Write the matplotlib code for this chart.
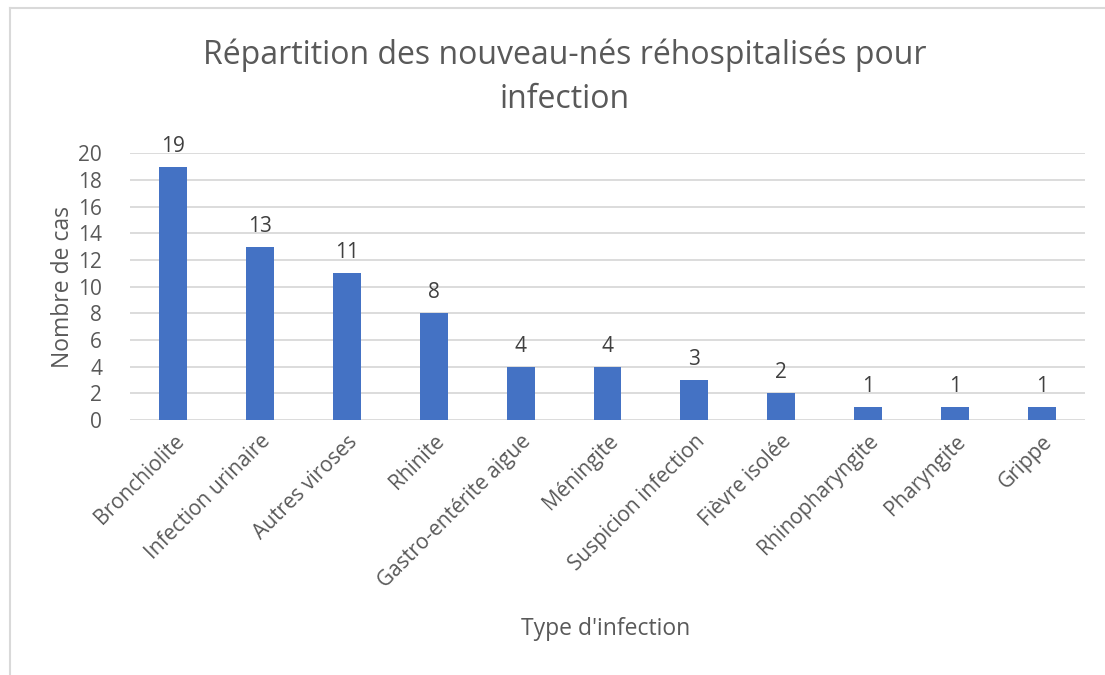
import numpy as np
import matplotlib.pyplot as plt
from matplotlib.lines import Line2D

plt.rcParams['font.family'] = ['Open Sans', 'DejaVu Sans']

categories = ['Bronchiolite', 'Infection urinaire', 'Autres viroses', 'Rhinite',
              'Gastro-entérite aigue', 'Méningite', 'Suspicion infection',
              'Fièvre isolée', 'Rhinopharyngite', 'Pharyngite', 'Grippe']
cases = [19, 13, 11, 8, 4, 4, 3, 2, 1, 1, 1]

txt = '#595959'
fig = plt.figure(figsize=(11.05, 6.75), dpi=100)
ax = fig.add_axes([0.1176, 0.378, 0.8644, 0.395])

x = np.arange(len(categories))
bars = ax.bar(x, cases, width=0.32, color='#4472c4', zorder=3)
for b, v in zip(bars, cases):
    ax.text(b.get_x() + b.get_width() / 2, v + 0.75, str(v), ha='center', va='bottom',
            fontsize=15, color='#404040')

ax.set_xlim(-0.5, len(categories) - 0.5)
ax.set_ylim(0, 20)
ax.set_yticks(range(0, 21, 2))
ax.yaxis.grid(True, color='#d9d9d9', linewidth=1.3, zorder=0)
for s in ax.spines.values():
    s.set_visible(False)
ax.tick_params(axis='both', length=0, labelsize=15, labelcolor=txt)
ax.tick_params(axis='y', pad=20)
ax.tick_params(axis='x', pad=8)
ax.set_xticks(x)
ax.set_xticklabels(categories, rotation=45, ha='right', rotation_mode='anchor')

ax.set_ylabel('Nombre de cas', fontsize=16.5, color=txt, labelpad=2)
fig.text(0.548, 0.068, "Type d'infection", ha='center', va='center', fontsize=16.5, color=txt)
fig.text(0.511, 0.886, 'Répartition des nouveau-nés réhospitalisés pour\ninfection',
         ha='center', va='center', fontsize=23, color=txt, linespacing=1.45)

# light chart-area border (left and top only visible)
fig.add_artist(Line2D([0.009, 0.009], [0, 0.988], color='#d9d9d9', lw=1.5, transform=fig.transFigure))
fig.add_artist(Line2D([0.009, 1.0], [0.988, 0.988], color='#d9d9d9', lw=1.5, transform=fig.transFigure))

fig.savefig('out.png', dpi=100)
